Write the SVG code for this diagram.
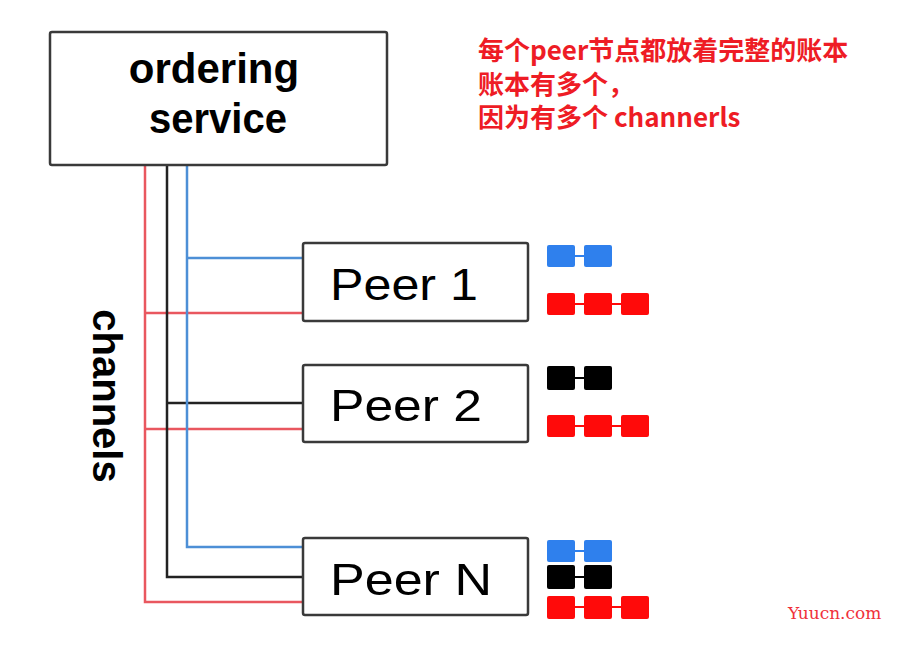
<svg xmlns="http://www.w3.org/2000/svg" width="897" height="668" viewBox="0 0 897 668">
<style>
.box{fill:#fff;stroke:#3a3a3a;stroke-width:2.5}
.title{font-family:"Liberation Sans",Arial,sans-serif;font-weight:bold;font-size:42px;fill:#000;text-anchor:middle}
.peer{font-family:"Liberation Sans",Arial,sans-serif;font-size:45px;fill:#000}
.note{font-family:"Noto Sans CJK SC","Liberation Sans",sans-serif;font-weight:bold;font-size:26px;fill:#ee1c25}
.red{fill:none;stroke:#e9575f;stroke-width:2.5}
.blk{fill:none;stroke:#222;stroke-width:2.5}
.blu{fill:none;stroke:#4d8fd6;stroke-width:2.5}
.lb{fill:#2f80ed}.lr{fill:#ff0a0a}.lk{fill:#000}
</style>
<rect width="897" height="668" fill="#fff"/>
<g id="connectors">
<path class="red" d="M145,165 V602 H303 M145,313 H303 M145,429 H303"/>
<path class="blk" d="M167,165 V577 H303 M167,403 H303"/>
<path class="blu" d="M187,165 V547 H303 M187,258 H303"/>
</g>
<g id="ordering">
<rect class="box" x="50" y="32" width="337" height="133" rx="2" stroke-width="3"/>
<text class="title" x="214" y="83">ordering</text>
<text class="title" x="218" y="133" textLength="138" lengthAdjust="spacingAndGlyphs">service</text>
</g>
<g id="peer1">
<rect class="box" x="303" y="243" width="225" height="78" rx="2"/>
<text class="peer" x="330" y="300" textLength="148" lengthAdjust="spacingAndGlyphs">Peer 1</text>
</g>
<g id="peer2">
<rect class="box" x="303" y="365" width="225" height="77" rx="2"/>
<text class="peer" x="330" y="421" textLength="152" lengthAdjust="spacingAndGlyphs">Peer 2</text>
</g>
<g id="peerN">
<rect class="box" x="303" y="538" width="225" height="77" rx="2"/>
<text class="peer" x="330" y="595" textLength="162" lengthAdjust="spacingAndGlyphs">Peer N</text>
</g>
<g id="ledger1">
<path d="M575,256 H584" stroke="#2f80ed" stroke-width="2"/>
<rect class="lb" x="547" y="245" width="28" height="22" rx="2"/>
<rect class="lb" x="584" y="245" width="28" height="22" rx="2"/>
<path d="M575,304 H621" stroke="#ff0a0a" stroke-width="2"/>
<rect class="lr" x="547" y="293" width="28" height="22" rx="2"/>
<rect class="lr" x="584" y="293" width="28" height="22" rx="2"/>
<rect class="lr" x="621" y="293" width="28" height="22" rx="2"/>
</g>
<g id="ledger2">
<path d="M575,378 H584" stroke="#000" stroke-width="2"/>
<rect class="lk" x="547" y="366" width="28" height="24" rx="2"/>
<rect class="lk" x="584" y="366" width="28" height="24" rx="2"/>
<path d="M575,426 H621" stroke="#ff0a0a" stroke-width="2"/>
<rect class="lr" x="547" y="415" width="28" height="22" rx="2"/>
<rect class="lr" x="584" y="415" width="28" height="22" rx="2"/>
<rect class="lr" x="621" y="415" width="28" height="22" rx="2"/>
</g>
<g id="ledgerN">
<path d="M575,551 H584" stroke="#2f80ed" stroke-width="2"/>
<rect class="lb" x="547" y="540" width="28" height="22" rx="2"/>
<rect class="lb" x="584" y="540" width="28" height="22" rx="2"/>
<path d="M575,577 H584" stroke="#000" stroke-width="2"/>
<rect class="lk" x="547" y="565" width="28" height="24" rx="2"/>
<rect class="lk" x="584" y="565" width="28" height="24" rx="2"/>
<path d="M575,607 H621" stroke="#ff0a0a" stroke-width="2"/>
<rect class="lr" x="547" y="596" width="28" height="23" rx="2"/>
<rect class="lr" x="584" y="596" width="28" height="23" rx="2"/>
<rect class="lr" x="621" y="596" width="28" height="23" rx="2"/>
</g>
<g id="channels-label">
<text transform="translate(93,396) rotate(90)" font-family="Liberation Sans,Arial,sans-serif" font-weight="bold" font-size="40" text-anchor="middle" fill="#000">channels</text>
</g>
<g id="note">
<text class="note" x="478" y="60">每个peer节点都放着完整的账本</text>
<text class="note" x="478" y="94">账本有多个，</text>
<text class="note" x="478" y="127">因为有多个 channerls</text>
</g>
<text x="788" y="619" font-family="DejaVu Serif,serif" font-size="17" fill="#f0303a">Yuucn.com</text>
</svg>
